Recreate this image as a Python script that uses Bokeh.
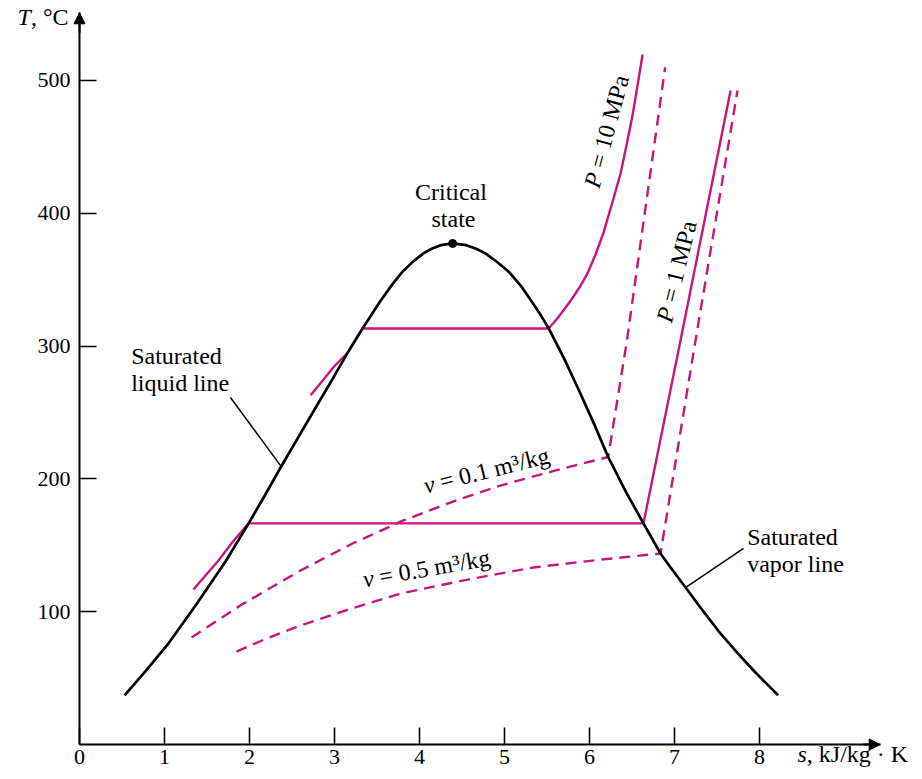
import math
from bokeh.plotting import figure
from bokeh.models import FixedTicker, Label, Arrow, NormalHead, Range1d, LinearAxis
from bokeh.embed import file_html
from bokeh.resources import INLINE

# ---------------- data ----------------
x_ticks = [0, 1, 2, 3, 4, 5, 6, 7, 8]
y_ticks = [100, 200, 300, 400, 500]

dome_s = [0.53, 0.78, 1.04, 1.38, 1.72, 1.99, 2.18, 2.37, 2.58, 2.80, 2.98, 3.15, 3.33,
          3.54, 3.68, 3.80, 3.93, 4.05, 4.15, 4.25, 4.39,
          4.55, 4.66, 4.77, 4.91, 5.05, 5.19, 5.30, 5.41, 5.52, 5.70, 5.87, 6.05, 6.22,
          6.43, 6.635, 6.835, 6.98, 7.13, 7.34, 7.54, 7.74, 7.93, 8.08, 8.22]
dome_T = [37, 55.5, 75.5, 106, 138, 166.5, 187.5, 209, 232, 256, 275.5, 294.5, 313.3,
          334, 346.5, 356, 364, 370, 373.5, 376, 377.3,
          376, 373.5, 370, 363.5, 356, 345.6, 335.5, 325, 313.3, 290.8, 267.5, 242, 216.5,
          190, 166.5, 143.8, 131, 118.2, 100.2, 83.6, 69, 55.7, 46, 37]

crit_s = [4.39]
crit_T = [377.3]

p10_s = [2.72, 3.00, 3.15, 3.33, 5.518, 5.576, 5.635, 5.706, 5.788, 5.882, 5.976, 6.071,
         6.165, 6.259, 6.365, 6.435, 6.506, 6.565, 6.624]
p10_T = [263, 285, 294.5, 313.3, 313.3, 317.4, 321.9, 327.9, 335.1, 344.1, 354.7, 369.0,
         385.5, 405.9, 430.0, 451.1, 473.6, 496.2, 519.6]

p1_s = [1.34, 1.635, 1.80, 1.99, 6.635, 7.07, 7.66]
p1_T = [116.7, 138.6, 152.5, 166.5, 166.5, 304, 492.5]

v01_s = [1.318, 1.90, 2.60, 3.20, 3.81, 4.38, 4.95, 5.58, 6.22, 6.44, 6.89]
v01_T = [80.6, 105, 131, 151, 168.7, 182.6, 195, 206, 216.5, 304, 510]

v05_s = [1.847, 2.20, 2.60, 3.20, 3.776, 4.55, 5.341, 6.10, 6.835, 7.247, 7.741]
v05_T = [70, 79.8, 89.6, 102.4, 113.7, 124, 133.3, 139, 143.8, 304.2, 492.5]

# ---------------- style ----------------
PINK = "#C8157A"
FONT = "Liberation Serif"
FS = 24
S_MAX = 9.42      # end of the s axis (arrow tip)
T_MAX = 551       # end of the T axis (arrow tip)
BASE_FIX = 9      # px: lift alphabetic-baseline labels onto their baseline

p = figure(width=914, height=771, output_backend="svg", toolbar_location=None,
           x_range=Range1d(-0.9294, 9.8235), y_range=Range1d(-20.33, 560.24),
           x_axis_type=None, y_axis_type=None,
           min_border_left=0, min_border_right=0, min_border_top=0, min_border_bottom=0)
p.grid.visible = False
p.outline_line_color = None
p.background_fill_color = "white"
p.border_fill_color = "white"

def style_axis(ax):
    ax.axis_line_width = 2
    ax.axis_line_color = "black"
    ax.major_tick_in = 17
    ax.major_tick_out = 0
    ax.minor_tick_in = 0
    ax.minor_tick_out = 0
    ax.major_tick_line_width = 1.6
    ax.major_tick_line_color = "black"
    ax.major_label_text_font = FONT
    ax.major_label_text_font_size = "22px"
    ax.major_label_text_color = "black"

xaxis = LinearAxis(ticker=FixedTicker(ticks=x_ticks), fixed_location=0, bounds=(0, S_MAX))
style_axis(xaxis)
xaxis.major_label_standoff = 5
p.add_layout(xaxis, "below")

yaxis = LinearAxis(ticker=FixedTicker(ticks=y_ticks), fixed_location=0, bounds=(0, T_MAX))
style_axis(yaxis)
yaxis.major_label_standoff = 9
p.add_layout(yaxis, "left")

# axis arrow heads
p.add_layout(Arrow(end=NormalHead(size=11, fill_color="black", line_color="black", line_width=1),
                   x_start=0, y_start=T_MAX - 15, x_end=0, y_end=T_MAX, line_width=2, line_color="black"))
p.add_layout(Arrow(end=NormalHead(size=11, fill_color="black", line_color="black", line_width=1),
                   x_start=S_MAX - 0.2, y_start=0, x_end=S_MAX, y_end=0, line_width=2, line_color="black"))

# curves
p.line(p1_s, p1_T, line_color=PINK, line_width=2.4)
p.line(p10_s, p10_T, line_color=PINK, line_width=2.4)
p.line(v01_s, v01_T, line_color=PINK, line_width=2.4, line_dash="11 7")
p.line(v05_s, v05_T, line_color=PINK, line_width=2.4, line_dash="11 7")
p.line(dome_s, dome_T, line_color="black", line_width=2.7)
p.scatter(crit_s, crit_T, size=8, color="black")

# leader lines for annotations
p.line([1.776, 2.365], [261.3, 210.0], line_color="black", line_width=1.5)
p.line([7.812, 7.129], [147.6, 118.2], line_color="black", line_width=1.5)

# ---------------- text ----------------
W_REG = {' ': 250, '\u00a0': 250, '=': 564, '.': 250, 'M': 889, 'P': 556, 'a': 444, 'm': 778,
         '³': 300, '/': 278, 'k': 500, 'g': 500, ',': 250, '°': 400, 'C': 667, 'J': 389,
         '·': 250, 'K': 722}
W_IT = {'P': 611, 'v': 444, 'T': 556, 's': 389}

def text_w(s, italic, fs):
    tbl = W_IT if italic else W_REG
    return sum(tbl.get(c, 500) for c in s) * fs / 1000.0

def rich(parts, x, y, angle_deg=0, fs=FS, align="center", baseline="middle"):
    th = math.radians(angle_deg)
    L = sum(text_w(t, it, fs) for t, it in parts)
    pos = -L / 2 if align == "center" else 0.0
    lift = BASE_FIX if baseline == "alphabetic" else 0
    for t, it in parts:
        shown = t.replace(" ", "\u00a0")
        p.add_layout(Label(x=x, y=y, text=shown, angle=th,
                           x_offset=pos * math.cos(th),
                           y_offset=pos * math.sin(th) + lift,
                           text_font=FONT, text_font_style="italic" if it else "normal",
                           text_font_size=f"{fs}px", text_color="black",
                           text_align="left", text_baseline=baseline))
        pos += text_w(t, it, fs)

def plain(text, x, y, align="left", fs=FS):
    p.add_layout(Label(x=x, y=y, text=text, text_font=FONT, text_font_size=f"{fs}px",
                       text_color="black", text_align=align, text_baseline="alphabetic",
                       y_offset=BASE_FIX))

plain("Critical", 4.37, 409, align="center")
plain("state", 4.40, 389.3, align="center")
plain("Saturated", 0.608, 285.4)
plain("liquid line", 0.608, 265.1)
plain("Saturated", 7.855, 149.8)
plain("vapor line", 7.855, 128.8)

rich([("P", True), (" = 10 MPa", False)], 6.200, 461.6, angle_deg=75)
rich([("P", True), (" = 1 MPa", False)], 7.024, 356.2, angle_deg=76)
rich([("v", True), (" = 0.1 m³/kg", False)], 4.788, 206.3, angle_deg=14)
rich([("v", True), (" = 0.5 m³/kg", False)], 4.082, 132.5, angle_deg=10)

rich([("T", True), (", °C", False)], -0.729, 540.7, align="left", baseline="alphabetic", fs=24)
rich([("s", True), (", kJ/kg · K", False)], 8.447, -14.0, align="left", baseline="alphabetic", fs=24)

open("out.html", "w").write(file_html(p, INLINE))
